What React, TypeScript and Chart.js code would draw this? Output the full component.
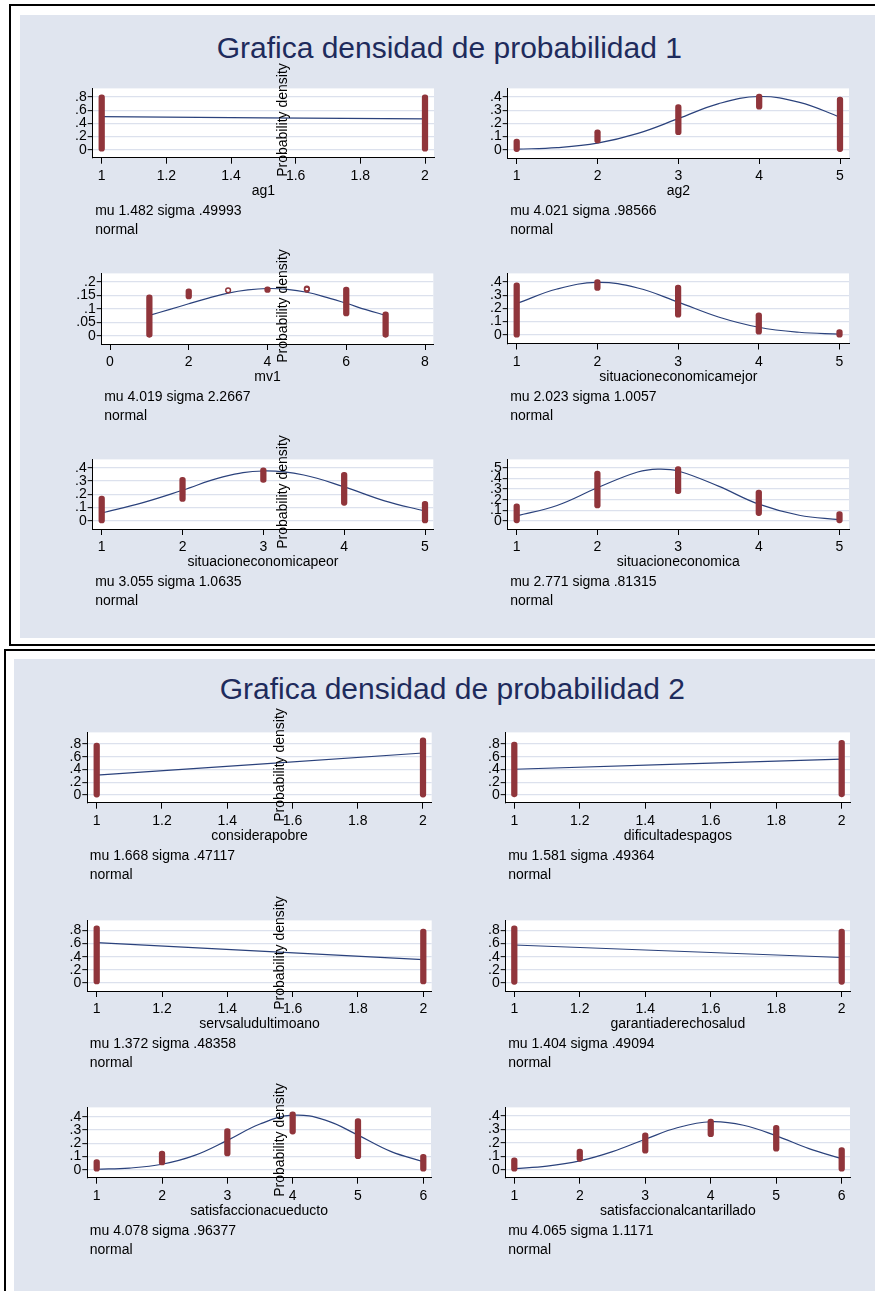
import React, { useEffect, useRef } from "react";
import { Chart, registerables } from "chart.js";

Chart.register(...registerables);

const FONT = "'Liberation Sans', Arial, Helvetica, sans-serif";
const PANEL_BG = "#e0e5ef";
const GRID_COLOR = "#dce1ed";
const MAROON = "#90353b";
const NAVY = "#2b427c";
const TITLE_COLOR = "#1e2b5c";

// ---------------- texts ----------------
const panelTitles = ["Grafica densidad de probabilidad 1", "Grafica densidad de probabilidad 2"];
const densityLabel = "Probability density";
const distLabel = "normal";
const varNames = [
  "ag1", "ag2", "mv1", "situacioneconomicamejor", "situacioneconomicapeor", "situacioneconomica",
  "considerapobre", "dificultadespagos", "servsaludultimoano", "garantiaderechosalud",
  "satisfaccionacueducto", "satisfaccionalcantarillado",
];
const fitNotes = [
  "mu 1.482 sigma .49993", "mu 4.021 sigma .98566", "mu 4.019 sigma 2.2667", "mu 2.023 sigma 1.0057",
  "mu 3.055 sigma 1.0635", "mu 2.771 sigma .81315", "mu 1.668 sigma .47117", "mu 1.581 sigma .49364",
  "mu 1.372 sigma .48358", "mu 1.404 sigma .49094", "mu 4.078 sigma .96377", "mu 4.065 sigma 1.1171",
];

// ---------------- data ----------------
// ag1
const ag1MarkX = [1, 2];
const ag1MarkLo = [-0.022, -0.022];
const ag1MarkHi = [0.832, 0.832];
const ag1CurveX = [1, 2];
const ag1CurveY = [0.501, 0.467];
const ag1XTicks = [1, 1.2, 1.4, 1.6, 1.8, 2];
const ag1YTicks = [0, 0.2, 0.4, 0.6, 0.8];

// ag2
const ag2MarkX = [1, 2, 3, 4, 5];
const ag2MarkLo = [-0.014, 0.051, 0.114, 0.307, -0.014];
const ag2MarkHi = [0.081, 0.151, 0.342, 0.423, 0.4];
const ag2CurveX = [1, 1.5, 2, 2.5, 3, 3.5, 4, 4.5, 5];
const ag2CurveY = [0.004, 0.016, 0.05, 0.124, 0.236, 0.35, 0.404, 0.36, 0.248];
const ag2XTicks = [1, 2, 3, 4, 5];
const ag2YTicks = [0, 0.1, 0.2, 0.3, 0.4];

// mv1
const mv1MarkX = [1, 2, 4, 6, 7];
const mv1MarkLo = [-0.006, 0.137, 0.161, 0.074, -0.006];
const mv1MarkHi = [0.152, 0.175, 0.182, 0.181, 0.089];
const mv1SingleX = [3, 5, 5];
const mv1SingleY = [0.169, 0.172, 0.176];
const mv1CurveX = [1, 1.5, 2, 2.5, 3, 3.5, 4, 4.5, 5, 5.5, 6, 6.5, 7];
const mv1CurveY = [0.076, 0.097, 0.119, 0.14, 0.159, 0.171, 0.176, 0.173, 0.162, 0.143, 0.121, 0.097, 0.076];
const mv1XTicks = [0, 2, 4, 6, 8];
const mv1YTicks = [0, 0.05, 0.1, 0.15, 0.2];

// situacioneconomicamejor
const mejMarkX = [1, 2, 3, 4, 5];
const mejMarkLo = [-0.019, 0.337, 0.133, 0.005, -0.019];
const mejMarkHi = [0.395, 0.419, 0.377, 0.167, 0.04];
const mejCurveX = [1, 1.5, 2, 2.5, 3, 3.5, 4, 4.5, 5];
const mejCurveY = [0.237, 0.347, 0.397, 0.355, 0.248, 0.135, 0.057, 0.019, 0.005];
const mejXTicks = [1, 2, 3, 4, 5];
const mejYTicks = [0, 0.1, 0.2, 0.3, 0.4];

// situacioneconomicapeor
const peoMarkX = [1, 2, 3, 4, 5];
const peoMarkLo = [-0.016, 0.146, 0.289, 0.116, -0.016];
const peoMarkHi = [0.185, 0.328, 0.398, 0.365, 0.146];
const peoCurveX = [1, 1.5, 2, 2.5, 3, 3.5, 4, 4.5, 5];
const peoCurveY = [0.058, 0.135, 0.23, 0.33, 0.375, 0.345, 0.255, 0.15, 0.072];
const peoXTicks = [1, 2, 3, 4, 5];
const peoYTicks = [0, 0.1, 0.2, 0.3, 0.4];

// situacioneconomica
const sitMarkX = [1, 2, 3, 4, 5];
const sitMarkLo = [-0.02, 0.122, 0.256, 0.049, -0.02];
const sitMarkHi = [0.16, 0.471, 0.515, 0.291, 0.087];
const sitCurveX = [1, 1.5, 2, 2.5, 2.75, 3, 3.5, 4, 4.5, 5];
const sitCurveY = [0.047, 0.145, 0.313, 0.462, 0.49, 0.472, 0.328, 0.157, 0.052, 0.011];
const sitXTicks = [1, 2, 3, 4, 5];
const sitYTicks = [0, 0.1, 0.2, 0.3, 0.4, 0.5];

// considerapobre
const conMarkX = [1, 2];
const conMarkLo = [-0.034, -0.034];
const conMarkHi = [0.815, 0.897];
const conCurveX = [1, 2];
const conCurveY = [0.312, 0.659];
const conXTicks = [1, 1.2, 1.4, 1.6, 1.8, 2];
const conYTicks = [0, 0.2, 0.4, 0.6, 0.8];

// dificultadespagos
const difMarkX = [1, 2];
const difMarkLo = [-0.03, -0.03];
const difMarkHi = [0.83, 0.86];
const difCurveX = [1, 2];
const difCurveY = [0.404, 0.564];
const difXTicks = [1, 1.2, 1.4, 1.6, 1.8, 2];
const difYTicks = [0, 0.2, 0.4, 0.6, 0.8];

// servsaludultimoano
const serMarkX = [1, 2];
const serMarkLo = [-0.014, -0.014];
const serMarkHi = [0.87, 0.823];
const serCurveX = [1, 2];
const serCurveY = [0.614, 0.356];
const serXTicks = [1, 1.2, 1.4, 1.6, 1.8, 2];
const serYTicks = [0, 0.2, 0.4, 0.6, 0.8];

// garantiaderechosalud
const garMarkX = [1, 2];
const garMarkLo = [-0.02, -0.02];
const garMarkHi = [0.87, 0.82];
const garCurveX = [1, 2];
const garCurveY = [0.579, 0.389];
const garXTicks = [1, 1.2, 1.4, 1.6, 1.8, 2];
const garYTicks = [0, 0.2, 0.4, 0.6, 0.8];

// satisfaccionacueducto
const acuMarkX = [1, 2, 3, 4, 5, 6];
const acuMarkLo = [-0.012, 0.036, 0.104, 0.27, 0.083, -0.012];
const acuMarkHi = [0.076, 0.14, 0.312, 0.438, 0.388, 0.116];
const acuCurveX = [1, 1.5, 2, 2.5, 3, 3.5, 4, 4.5, 5, 5.5, 6];
const acuCurveY = [0.003, 0.012, 0.041, 0.108, 0.222, 0.346, 0.413, 0.376, 0.262, 0.139, 0.06];
const acuXTicks = [1, 2, 3, 4, 5, 6];
const acuYTicks = [0, 0.1, 0.2, 0.3, 0.4];

// satisfaccionalcantarillado
const alcMarkX = [1, 2, 3, 4, 5, 6];
const alcMarkLo = [-0.011, 0.062, 0.123, 0.245, 0.137, -0.011];
const alcMarkHi = [0.089, 0.153, 0.274, 0.377, 0.331, 0.165];
const alcCurveX = [1, 1.5, 2, 2.5, 3, 3.5, 4, 4.5, 5, 5.5, 6];
const alcCurveY = [0.008, 0.026, 0.065, 0.134, 0.227, 0.314, 0.357, 0.331, 0.252, 0.157, 0.082];
const alcXTicks = [1, 2, 3, 4, 5, 6];
const alcYTicks = [0, 0.1, 0.2, 0.3, 0.4];

type Spec = {
  markX: number[]; markLo: number[]; markHi: number[];
  singleX?: number[]; singleY?: number[];
  curveX: number[]; curveY: number[];
  xTicks: number[]; yTicks: number[];
};

const specs: Spec[] = [
  { markX: ag1MarkX, markLo: ag1MarkLo, markHi: ag1MarkHi, curveX: ag1CurveX, curveY: ag1CurveY, xTicks: ag1XTicks, yTicks: ag1YTicks },
  { markX: ag2MarkX, markLo: ag2MarkLo, markHi: ag2MarkHi, curveX: ag2CurveX, curveY: ag2CurveY, xTicks: ag2XTicks, yTicks: ag2YTicks },
  { markX: mv1MarkX, markLo: mv1MarkLo, markHi: mv1MarkHi, singleX: mv1SingleX, singleY: mv1SingleY, curveX: mv1CurveX, curveY: mv1CurveY, xTicks: mv1XTicks, yTicks: mv1YTicks },
  { markX: mejMarkX, markLo: mejMarkLo, markHi: mejMarkHi, curveX: mejCurveX, curveY: mejCurveY, xTicks: mejXTicks, yTicks: mejYTicks },
  { markX: peoMarkX, markLo: peoMarkLo, markHi: peoMarkHi, curveX: peoCurveX, curveY: peoCurveY, xTicks: peoXTicks, yTicks: peoYTicks },
  { markX: sitMarkX, markLo: sitMarkLo, markHi: sitMarkHi, curveX: sitCurveX, curveY: sitCurveY, xTicks: sitXTicks, yTicks: sitYTicks },
  { markX: conMarkX, markLo: conMarkLo, markHi: conMarkHi, curveX: conCurveX, curveY: conCurveY, xTicks: conXTicks, yTicks: conYTicks },
  { markX: difMarkX, markLo: difMarkLo, markHi: difMarkHi, curveX: difCurveX, curveY: difCurveY, xTicks: difXTicks, yTicks: difYTicks },
  { markX: serMarkX, markLo: serMarkLo, markHi: serMarkHi, curveX: serCurveX, curveY: serCurveY, xTicks: serXTicks, yTicks: serYTicks },
  { markX: garMarkX, markLo: garMarkLo, markHi: garMarkHi, curveX: garCurveX, curveY: garCurveY, xTicks: garXTicks, yTicks: garYTicks },
  { markX: acuMarkX, markLo: acuMarkLo, markHi: acuMarkHi, curveX: acuCurveX, curveY: acuCurveY, xTicks: acuXTicks, yTicks: acuYTicks },
  { markX: alcMarkX, markLo: alcMarkLo, markHi: alcMarkHi, curveX: alcCurveX, curveY: alcCurveY, xTicks: alcXTicks, yTicks: alcYTicks },
];

// ---------------- layout (page pixels) ----------------
// L/R/T/B: plot region; xr/yr: [value1, pixel1, value2, pixel2]; pd: centre of rotated label
type Box = { L: number; R: number; T: number; B: number; xr: number[]; yr: number[]; pd?: number[] };
const boxes: Box[] = [
  { L: 92.7, R: 434, T: 82.3, B: 157.7, xr: [1, 101.7, 2, 425], yr: [0, 149, 0.8, 91.7], pd: [282.1, 120] },
  { L: 507.7, R: 849, T: 82.3, B: 158, xr: [1, 516.7, 5, 840], yr: [0, 149, 0.4, 91.7] },
  { L: 101.7, R: 433.3, T: 267.3, B: 344, xr: [0, 110, 8, 425], yr: [0, 335, 0.2, 276.7], pd: [282.1, 306] },
  { L: 507.7, R: 849, T: 267.3, B: 343.5, xr: [1, 516.7, 5, 839.5], yr: [0, 334, 0.4, 276.7] },
  { L: 92.7, R: 433.3, T: 453.3, B: 529, xr: [1, 101.7, 5, 425], yr: [0, 520, 0.4, 462.3], pd: [282.3, 491.5] },
  { L: 507.7, R: 849, T: 453.3, B: 529, xr: [1, 516.7, 5, 839.5], yr: [0, 520, 0.5, 462.7] },
  { L: 87.3, R: 431.7, T: 726.7, B: 802.7, xr: [1, 96.7, 2, 423], yr: [0, 794.3, 0.8, 739.3], pd: [278.7, 765] },
  { L: 505.7, R: 850, T: 726.7, B: 802.7, xr: [1, 514.3, 2, 841.7], yr: [0, 794.3, 0.8, 739.3] },
  { L: 87.3, R: 431.7, T: 914, B: 991, xr: [1, 96.7, 2, 423.3], yr: [0, 982.3, 0.8, 925], pd: [278.7, 952.5] },
  { L: 505.7, R: 850, T: 914, B: 991, xr: [1, 514.3, 2, 841.7], yr: [0, 982.3, 0.8, 925] },
  { L: 87.3, R: 431, T: 1101.7, B: 1177.7, xr: [1, 96.7, 6, 423.3], yr: [0, 1169, 0.4, 1112], pd: [278.7, 1140] },
  { L: 505.7, R: 850, T: 1101.7, B: 1177.7, xr: [1, 514.3, 6, 841.7], yr: [0, 1169, 0.4, 1111] },
];

const Y_AXIS_W = 45;
const X_AXIS_H = 82;
const PAD_T = 3;
const PAD_R = 8;

function fmt(v: number): string {
  const s = String(Math.round(v * 10000) / 10000);
  return s.replace(/^0\./, ".").replace(/^-0\./, "-.");
}

function Plot({ spec, box, name, note }: { spec: Spec; box: Box; name: string; note: string }) {
  const ref = useRef<HTMLCanvasElement | null>(null);
  const cLeft = Math.floor(box.L) - Y_AXIS_W;
  const cTop = Math.floor(box.T) - PAD_T;
  const cW = Math.ceil(box.R) + PAD_R - cLeft;
  const cH = Math.ceil(box.B) - cTop + X_AXIS_H;

  useEffect(() => {
    const canvas = ref.current;
    if (!canvas) return;
    const [xv1, xp1, xv2, xp2] = box.xr;
    const xu = (xp2 - xp1) / (xv2 - xv1);
    const xMin = xv1 - (xp1 - box.L) / xu;
    const xMax = xv2 + (box.R - xp2) / xu;
    const [yv1, yp1, yv2, yp2] = box.yr;
    const yu = (yp1 - yp2) / (yv2 - yv1);
    const yMin = yv1 - (box.B - yp1) / yu;
    const yMax = yv2 + (yp2 - box.T) / yu;

    const font = { family: FONT, size: 14 };

    const datasets: any[] = [
      {
        type: "bar",
        data: spec.markX.map((x, i) => ({ x, y: [spec.markLo[i], spec.markHi[i]] })),
        backgroundColor: MAROON,
        barThickness: 5.6,
        borderRadius: 2.8,
        borderSkipped: false,
        order: 0,
      },
    ];
    if (spec.singleX && spec.singleY) {
      datasets.push({
        type: "scatter",
        data: spec.singleX.map((x, i) => ({ x, y: spec.singleY![i] })),
        pointRadius: 2.4,
        pointBorderWidth: 1.4,
        pointBorderColor: MAROON,
        pointBackgroundColor: "rgba(0,0,0,0)",
        order: 1,
      });
    }
    datasets.push({
      type: "line",
      data: spec.curveX.map((x, i) => ({ x, y: spec.curveY[i] })),
      borderColor: NAVY,
      borderWidth: 1.2,
      pointRadius: 0,
      tension: 0.4,
      fill: false,
      order: 2,
    });

    const plotBg = {
      id: "plotBg",
      beforeDraw(chart: any) {
        const a = chart.chartArea;
        const ctx = chart.ctx;
        ctx.save();
        ctx.fillStyle = "#ffffff";
        ctx.fillRect(a.left, a.top, a.right - a.left, a.bottom - a.top);
        ctx.restore();
      },
    };
    const notes = {
      id: "notes",
      afterDraw(chart: any) {
        const a = chart.chartArea;
        const ctx = chart.ctx;
        ctx.save();
        ctx.font = `14px ${FONT}`;
        ctx.fillStyle = "#000";
        ctx.textAlign = "left";
        ctx.textBaseline = "alphabetic";
        ctx.fillText(note, a.left + 2.5, a.bottom + 57);
        ctx.fillText(distLabel, a.left + 2.5, a.bottom + 76);
        ctx.restore();
      },
    };

    const chart = new Chart(canvas, {
      type: "line",
      data: { datasets },
      options: {
        animation: false,
        responsive: false,
        events: [],
        layout: {
          padding: {
            left: box.L - Math.floor(box.L),
            top: box.T - cTop,
            right: Math.ceil(box.R) + PAD_R - box.R,
            bottom: Math.ceil(box.B) - box.B,
          },
        },
        plugins: { legend: { display: false }, tooltip: { enabled: false } },
        scales: {
          x: {
            type: "linear",
            min: xMin,
            max: xMax,
            offset: false,
            afterBuildTicks: (s: any) => {
              s.ticks = spec.xTicks.map((v) => ({ value: v }));
            },
            afterFit: (s: any) => {
              s.height = X_AXIS_H;
            },
            ticks: {
              autoSkip: false,
              maxRotation: 0,
              minRotation: 0,
              padding: 4,
              color: "#000",
              font,
              callback: (v: any) => fmt(Number(v)),
            },
            grid: { drawOnChartArea: false, offset: false, tickLength: 6, tickColor: "#000", tickWidth: 1 },
            border: { color: "#000", width: 1 },
            title: { display: true, text: name, color: "#000", font, padding: { top: 0, bottom: 40 } },
          },
          y: {
            type: "linear",
            min: yMin,
            max: yMax,
            afterBuildTicks: (s: any) => {
              s.ticks = spec.yTicks.map((v) => ({ value: v }));
            },
            afterFit: (s: any) => {
              s.width = Y_AXIS_W;
            },
            ticks: {
              autoSkip: false,
              padding: 1,
              color: "#000",
              font,
              callback: (v: any) => fmt(Number(v)),
            },
            grid: { color: GRID_COLOR, lineWidth: 1.3, tickLength: 5, tickColor: "#000", tickWidth: 1 },
            border: { color: "#000", width: 1 },
          },
        },
      } as any,
      plugins: [plotBg, notes],
    });
    return () => chart.destroy();
  }, [spec, box, name, note]);

  return (
    <canvas
      ref={ref}
      width={cW}
      height={cH}
      style={{ position: "absolute", left: cLeft, top: cTop, width: cW, height: cH, display: "block" }}
    />
  );
}

const titleCenters = [
  [449.3, 58],
  [452.3, 699.5],
];

export default function App() {
  return (
    <div
      style={{
        position: "absolute",
        left: 0,
        top: 0,
        width: 875,
        height: 1291,
        overflow: "hidden",
        background: "#fff",
        fontFamily: FONT,
      }}
    >
      {/* panel 1 frame and background */}
      <div style={{ position: "absolute", left: 9, top: 4, width: 900, height: 638, border: "2px solid #000", background: "#fff" }} />
      <div style={{ position: "absolute", left: 19.5, top: 15, width: 900, height: 623.3, background: PANEL_BG }} />
      {/* panel 2 frame and background */}
      <div style={{ position: "absolute", left: 4, top: 649, width: 900, height: 700, border: "2px solid #000", background: "#fff" }} />
      <div style={{ position: "absolute", left: 13.5, top: 658.5, width: 900, height: 700, background: PANEL_BG }} />

      {panelTitles.map((t, i) => (
        <div
          key={t}
          style={{
            position: "absolute",
            left: titleCenters[i][0] - 350,
            width: 700,
            top: titleCenters[i][1] - 25.4,
            height: 30,
            lineHeight: "30px",
            fontSize: 30,
            textAlign: "center",
            color: TITLE_COLOR,
            whiteSpace: "nowrap",
          }}
        >
          {t}
        </div>
      ))}

      {specs.map((s, i) => (
        <Plot key={varNames[i]} spec={s} box={boxes[i]} name={varNames[i]} note={fitNotes[i]} />
      ))}

      {boxes.map((b, i) =>
        b.pd ? (
          <div
            key={"pd" + i}
            style={{
              position: "absolute",
              left: b.pd[0],
              top: b.pd[1],
              transform: "translate(-50%, -50%) rotate(-90deg)",
              fontSize: 14,
              lineHeight: "16px",
              whiteSpace: "nowrap",
              color: "#000",
            }}
          >
            {densityLabel}
          </div>
        ) : null
      )}
    </div>
  );
}
